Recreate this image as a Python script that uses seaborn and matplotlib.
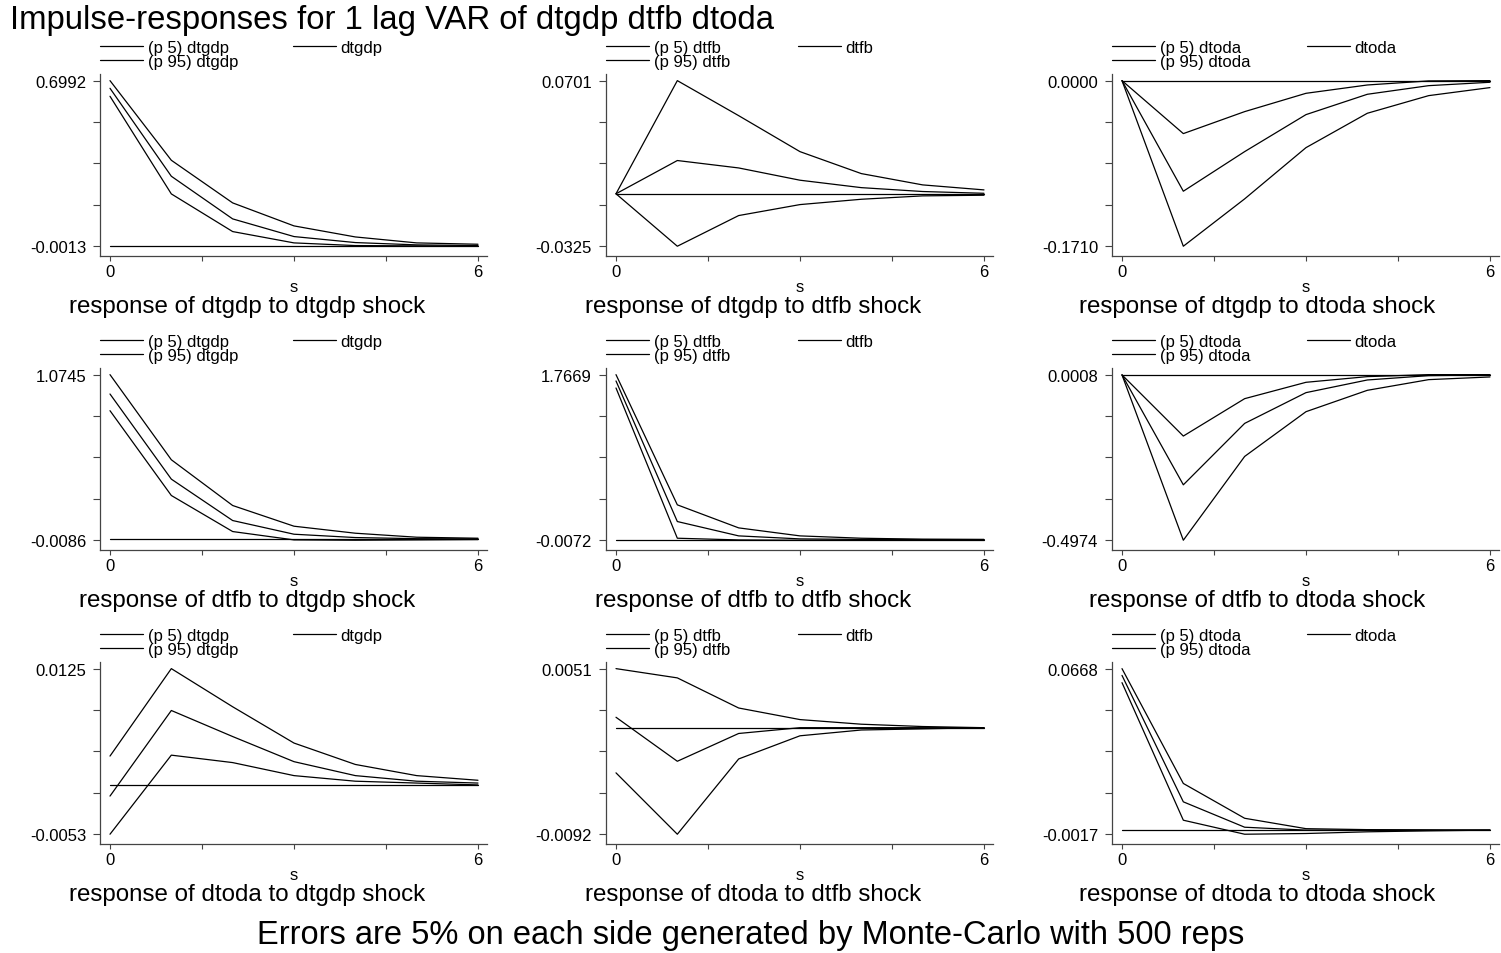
import matplotlib
matplotlib.use("Agg")
import matplotlib.pyplot as plt
import numpy as np
import seaborn as sns

sns.set_style("ticks")
plt.rcParams["font.family"] = ["Liberation Sans", "DejaVu Sans"]
plt.rcParams["text.color"] = "black"
plt.rcParams["axes.labelcolor"] = "black"

steps = [0, 1, 2, 3, 4, 5, 6]
variables = ["dtgdp", "dtfb", "dtoda"]

# response of dtgdp
hi_gdp_gdp = [0.6992, 0.3623, 0.1820, 0.0847, 0.0380, 0.0128, 0.0071]
md_gdp_gdp = [0.6668, 0.2947, 0.1143, 0.0396, 0.0142, 0.0044, 0.0015]
lo_gdp_gdp = [0.6330, 0.2200, 0.0607, 0.0128, 0.0015, 0.0002, -0.0013]

hi_gdp_fb = [0.0, 0.0701, 0.0484, 0.0261, 0.0125, 0.0055, 0.0024]
md_gdp_fb = [0.0, 0.0206, 0.0160, 0.0084, 0.0038, 0.0014, 0.0003]
lo_gdp_fb = [0.0, -0.0325, -0.0135, -0.0067, -0.0034, -0.0013, -0.0009]

hi_gdp_oda = [0.0, -0.0547, -0.0320, -0.0131, -0.0045, -0.0003, 0.0]
md_gdp_oda = [0.0, -0.1142, -0.0733, -0.0351, -0.0141, -0.0052, -0.0017]
lo_gdp_oda = [0.0, -0.1710, -0.1221, -0.0692, -0.0337, -0.0155, -0.0072]

# response of dtfb
hi_fb_gdp = [1.0745, 0.5177, 0.2185, 0.0831, 0.0373, 0.0111, 0.0045]
md_fb_gdp = [0.9478, 0.3910, 0.1202, 0.0307, 0.0089, 0.0015, 0.0005]
lo_fb_gdp = [0.8387, 0.2840, 0.0482, -0.0064, -0.0086, -0.0064, -0.0042]

hi_fb_fb = [1.7669, 0.3719, 0.1251, 0.0393, 0.0143, 0.0040, 0.0012]
md_fb_fb = [1.6990, 0.1931, 0.0393, 0.0071, 0.0015, 0.0003, 0.0001]
lo_fb_fb = [1.6238, 0.0143, -0.0040, -0.0072, -0.0060, -0.0045, -0.0030]

hi_fb_oda = [0.0, -0.1840, -0.0715, -0.0223, -0.0052, 0.0008, 0.0008]
md_fb_oda = [0.0, -0.3307, -0.1459, -0.0534, -0.0153, -0.0022, -0.0002]
lo_fb_oda = [0.0, -0.4974, -0.2453, -0.1107, -0.0464, -0.0143, -0.0062]

# response of dtoda
hi_oda_gdp = [0.0031, 0.0125, 0.0084, 0.0045, 0.0022, 0.0010, 0.0005]
md_oda_gdp = [-0.0012, 0.0080, 0.0052, 0.0025, 0.0010, 0.0004, 0.0002]
lo_oda_gdp = [-0.0053, 0.0032, 0.0024, 0.0010, 0.0004, 0.0002, 0.0]

hi_oda_fb = [0.0051, 0.0043, 0.0017, 0.0007, 0.0003, 0.0001, 0.0]
md_oda_fb = [0.0009, -0.0029, -0.0005, 0.0, 0.0, 0.0, 0.0]
lo_oda_fb = [-0.0039, -0.0092, -0.0027, -0.0007, -0.0002, -0.0001, 0.0]

hi_oda_oda = [0.0668, 0.0193, 0.0049, 0.0006, 0.0002, 0.0001, 0.0]
md_oda_oda = [0.0640, 0.0117, 0.0012, 0.0, 0.0, 0.0, 0.0]
lo_oda_oda = [0.0610, 0.0041, -0.0017, -0.0014, -0.0007, -0.0003, 0.0]

panels = [
    [(lo_gdp_gdp, md_gdp_gdp, hi_gdp_gdp), (lo_gdp_fb, md_gdp_fb, hi_gdp_fb), (lo_gdp_oda, md_gdp_oda, hi_gdp_oda)],
    [(lo_fb_gdp, md_fb_gdp, hi_fb_gdp), (lo_fb_fb, md_fb_fb, hi_fb_fb), (lo_fb_oda, md_fb_oda, hi_fb_oda)],
    [(lo_oda_gdp, md_oda_gdp, hi_oda_gdp), (lo_oda_fb, md_oda_fb, hi_oda_fb), (lo_oda_oda, md_oda_oda, hi_oda_oda)],
]

W, H = 1501, 954
fig = plt.figure(figsize=(W / 100, H / 100), dpi=100)

col_left = [100, 606, 1112]
col_center = [247, 753, 1257]
row_top = [75, 369, 663]
ax_w, ax_h = 387, 182
col_spacing = [3.3, 4.1, 3.4]
lw = 0.9
small = 12

for r in range(3):
    for c in range(3):
        lo, md, hi = panels[r][c]
        shock = variables[c]
        ax = fig.add_axes([col_left[c] / W, 1 - (row_top[r] + ax_h) / H, ax_w / W, ax_h / H])
        l1 = sns.lineplot(x=steps, y=lo, ax=ax, color="black", linewidth=lw).lines[-1]
        l2 = sns.lineplot(x=steps, y=md, ax=ax, color="black", linewidth=lw).lines[-1]
        l3 = sns.lineplot(x=steps, y=hi, ax=ax, color="black", linewidth=lw).lines[-1]
        sns.lineplot(x=steps, y=[0.0] * len(steps), ax=ax, color="black", linewidth=lw)

        vals = np.array(lo + md + hi + [0.0])
        ymin, ymax = vals.min(), vals.max()
        rng = ymax - ymin
        ax.set_ylim(ymin - 0.059 * rng, ymax + 0.040 * rng)
        ax.set_xlim(-0.163, 6.147)
        ax.set_yticks(np.linspace(ymin, ymax, 5))
        ax.set_yticklabels([f"{ymin:.4f}".replace("-0.0000", "0.0000"), "", "", "", f"{ymax:.4f}"])
        ax.set_xticks([0, 1.5, 3, 4.5, 6])
        ax.set_xticklabels(["0", "", "", "", "6"])
        ax.tick_params(axis="y", length=5, width=0.8, labelsize=small, pad=5, colors="#444444", labelcolor="black")
        ax.tick_params(axis="x", length=3.5, width=0.8, labelsize=small, pad=2, colors="#444444", labelcolor="black")
        for side in ["top", "right"]:
            ax.spines[side].set_visible(False)
        for side in ["left", "bottom"]:
            ax.spines[side].set_color("#444444")
            ax.spines[side].set_linewidth(0.9)
        ax.set_xlabel("s", fontsize=small, labelpad=0)
        ax.set_ylabel("")

        ax.legend(
            [l1, l3, l2],
            [f"(p 5) {shock}", f"(p 95) {shock}", shock],
            ncol=2,
            loc="lower left",
            bbox_to_anchor=(0.0, 1.03),
            frameon=False,
            fontsize=small,
            handlelength=2.6,
            handletextpad=0.25,
            columnspacing=col_spacing[c],
            labelspacing=-0.1,
            borderpad=0,
            borderaxespad=0,
        )

        fig.text(
            col_center[c] / W,
            1 - (313 + 294 * r) / H,
            f"response of {variables[r]} to {shock} shock",
            ha="center",
            va="baseline",
            fontsize=17.4,
        )

fig.text(10 / W, 1 - 28.5 / H, "Impulse-responses for 1 lag VAR of dtgdp dtfb dtoda",
         ha="left", va="baseline", fontsize=23.7)
fig.text(0.5, 1 - 944 / H, "Errors are 5% on each side generated by Monte-Carlo with 500 reps",
         ha="center", va="baseline", fontsize=23.5)

fig.savefig("out.png", dpi=100)
